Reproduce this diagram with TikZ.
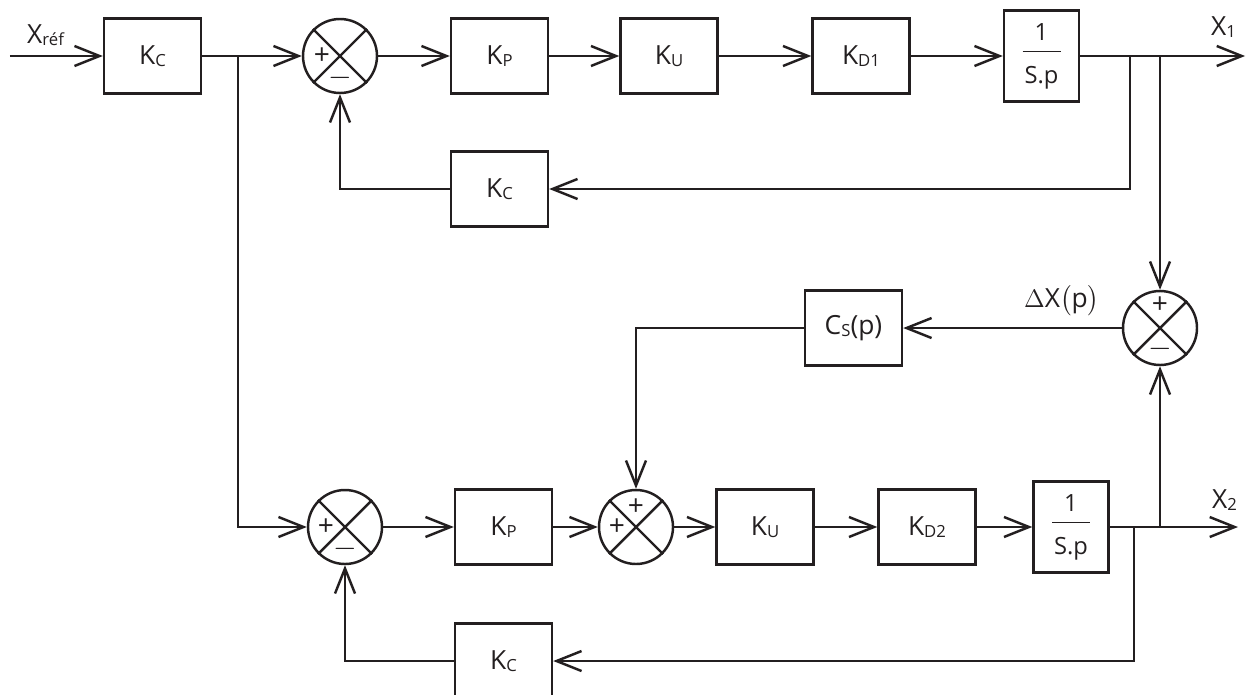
\documentclass[tikz,border=0pt]{standalone}
\usepackage{amsmath}
\usepackage{fontspec}
\setmainfont{Open Sans}
\usetikzlibrary{arrows.meta, calc}
\definecolor{ink}{HTML}{231F20}
\newcommand{\idx}[1]{\raisebox{-1.3pt}{\fontsize{9.5}{10}\selectfont #1}}
\newcommand{\integ}{\begin{tabular}{@{}c@{}}1\\[-9.7pt]\rule{0.76cm}{0.5pt}\\[1.1pt]S.p\end{tabular}}

\begin{document}
\begin{tikzpicture}[
        line width=1.4pt, draw=ink, text=ink,
        box/.style={rectangle, draw, minimum width=1.94cm, minimum height=1.5cm, inner sep=0pt, font=\fontsize{15}{18}\selectfont},
        intbox/.style={box, minimum width=1.5cm, minimum height=1.82cm, font=\fontsize{13.5}{16.5}\selectfont},
        sum/.style={circle, draw, minimum size=1.48cm, inner sep=0pt},
        sign/.style={inner sep=0pt, font=\fontsize{16}{18}\selectfont},
        lbl/.style={inner sep=0pt, font=\fontsize{15}{18}\selectfont},
        arrow/.style={-{Straight Barb[length=0.5cm, width=0.4cm]}}
    ]
        \useasboundingbox (0,0) rectangle (24.94,-13.88);

        % Nodes (first loop)
        \node (kc1) [box] at (3.05,-1.12) {K\idx{C}};
        \node (s1) [sum] at (6.8,-1.12) {};
        \node (kp1) [box] at (9.99,-1.12) {K\idx{P}};
        \node (ku1) [box] at (13.38,-1.12) {K\idx{U}};
        \node (kd1) [box] at (17.22,-1.12) {K\idx{D1}};
        \node (int1) [intbox] at (20.83,-1.12) {\integ};
        \node (kc2) [box] at (9.99,-3.78) {K\idx{C}};

        % Nodes (synchronisation)
        \node (sd) [sum] at (23.2,-6.56) {};
        \node (cs) [box] at (17.07,-6.56) {C\idx{S}(p)};

        % Nodes (second loop)
        \node (s2) [sum] at (6.9,-10.54) {};
        \node (kp2) [box] at (10.07,-10.54) {K\idx{P}};
        \node (s3) [sum] at (12.72,-10.54) {};
        \node (ku2) [box] at (15.3,-10.54) {K\idx{U}};
        \node (kd2) [box] at (18.54,-10.54) {K\idx{D2}};
        \node (int2) [intbox] at (21.42,-10.54) {\integ};
        \node (kc3) [box] at (10.07,-13.22) {K\idx{C}};

        % Crosses and signs
        \foreach \s in {s1,s2,s3,sd} {
            \draw (\s.north west) -- (\s.south east);
            \draw (\s.north east) -- (\s.south west);
        }
        \node (s1p) [sign] at ($(s1.center)+(-0.36,0)$) {+};
        \node (s1m) [sign] at ($(s1.center)+(0,-0.44)$) {$-$};
        \node (s2p) [sign] at ($(s2.center)+(-0.38,0)$) {+};
        \node (s2m) [sign] at ($(s2.center)+(0,-0.44)$) {$-$};
        \node (s3t) [sign] at ($(s3.center)+(0,0.4)$) {+};
        \node (s3l) [sign] at ($(s3.center)+(-0.38,0)$) {+};
        \node (sdp) [sign] at ($(sd.center)+(0,0.46)$) {+};
        \node (sdm) [sign] at ($(sd.center)+(0,-0.42)$) {$-$};

        % Signals
        \node (xref) [lbl, anchor=base west] at (0.52,-0.86) {X\idx{réf}};
        \node (xa) [lbl, anchor=base west] at (24.2,-0.7) {X\idx{1}};
        \node (xb) [lbl, anchor=base west] at (24.22,-10.16) {X\idx{2}};
        \node (dx) [lbl, anchor=base west] at (20.46,-6.14) {$\Delta$X$\bigl($p$\bigr)$};

        \coordinate (xin) at (0.2,-1.12);
        \coordinate (x1) at (24.9,-1.12);
        \coordinate (x2) at (24.76,-10.54);
        \coordinate (b0) at (4.76,-1.12);
        \coordinate (b1) at (22.6,-1.12);
        \coordinate (b2) at (23.2,-1.12);
        \coordinate (b3) at (22.68,-10.54);
        \coordinate (b4) at (23.2,-10.54);

        % Arrows (first loop)
        \draw [arrow] (xin) -- (kc1);
        \draw [arrow] (kc1) -- (s1);
        \draw [arrow] (s1) -- (kp1);
        \draw [arrow] (kp1) -- (ku1);
        \draw [arrow] (ku1) -- (kd1);
        \draw [arrow] (kd1) -- (int1);
        \draw [arrow] (int1) -- (x1);
        \draw [arrow] (b1) |- (kc2.east);
        \draw [arrow] (kc2.west) -| (s1.south);

        % Arrows (synchronisation)
        \draw [arrow] (b2) -- (sd.north);
        \draw [arrow] (b4) -- (sd.south);
        \draw [arrow] (sd.west) -- (cs.east);
        \draw [arrow] (cs.west) -| (s3.north);

        % Arrows (second loop)
        \draw [arrow] (b0) |- (s2.west);
        \draw [arrow] (s2) -- (kp2);
        \draw [arrow] (kp2) -- (s3);
        \draw [arrow] (s3) -- (ku2);
        \draw [arrow] (ku2) -- (kd2);
        \draw [arrow] (kd2) -- (int2);
        \draw [arrow] (int2) -- (x2);
        \draw [arrow] (b3) |- (kc3.east);
        \draw [arrow] (kc3.west) -| (s2.south);
    \end{tikzpicture}
\end{document}
